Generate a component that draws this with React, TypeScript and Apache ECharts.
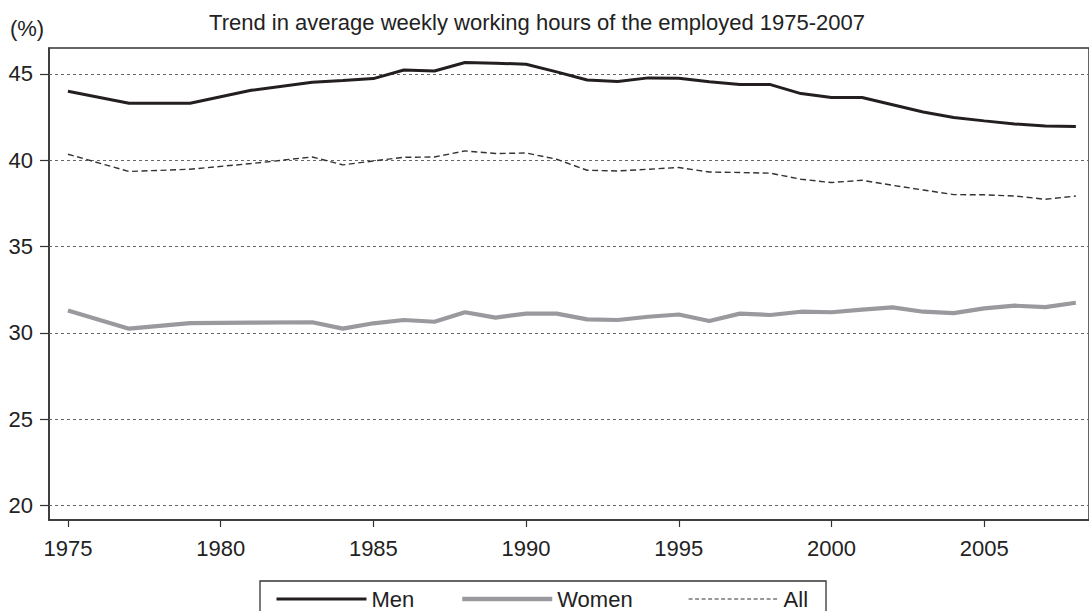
import React, { useEffect, useRef } from "react";
import * as echarts from "echarts";

const titleText = "Trend in average weekly working hours of the employed 1975-2007";
const unitText = "(%)";
const years = [1975, 1977, 1979, 1981, 1983, 1984, 1985, 1986, 1987, 1988, 1989, 1990, 1991, 1992, 1993, 1994, 1995, 1996, 1997, 1998, 1999, 2000, 2001, 2002, 2003, 2004, 2005, 2006, 2007, 2008];
const men = [44.0, 43.3, 43.3, 44.05, 44.52, 44.62, 44.73, 45.23, 45.17, 45.66, 45.62, 45.56, 45.12, 44.65, 44.56, 44.77, 44.75, 44.54, 44.38, 44.38, 43.86, 43.63, 43.63, 43.21, 42.79, 42.47, 42.28, 42.1, 41.99, 41.95];
const women = [31.3, 30.25, 30.57, 30.6, 30.62, 30.25, 30.56, 30.75, 30.65, 31.2, 30.89, 31.12, 31.12, 30.79, 30.75, 30.94, 31.07, 30.69, 31.12, 31.04, 31.23, 31.2, 31.35, 31.48, 31.23, 31.15, 31.42, 31.58, 31.5, 31.75];
const all = [40.35, 39.35, 39.48, 39.81, 40.19, 39.73, 39.96, 40.17, 40.19, 40.54, 40.39, 40.42, 40.06, 39.42, 39.38, 39.48, 39.58, 39.32, 39.29, 39.25, 38.9, 38.71, 38.84, 38.55, 38.28, 38.01, 38.0, 37.93, 37.74, 37.93];
const xTicks = [1975, 1980, 1985, 1990, 1995, 2000, 2005];
const yTicks = [20, 25, 30, 35, 40, 45];

const FONT = "Liberation Sans, Arial, sans-serif";

export default function App() {
  const ref = useRef<HTMLDivElement>(null);
  useEffect(() => {
    if (!ref.current) return;
    const chart = echarts.init(ref.current, null, { renderer: "svg" });
    const pair = (arr: number[]) => years.map((y, i) => [y, arr[i]]);
    const legendBase = {
      top: 588,
      itemWidth: 90,
      itemHeight: 14,
      padding: 0,
      itemGap: 0,
      selectedMode: false,
      itemStyle: { opacity: 0 },
      textStyle: { fontSize: 22, color: "#222", fontFamily: FONT, lineHeight: 22 },
    };
    chart.setOption({
      animation: false,
      backgroundColor: "#fff",
      textStyle: { fontFamily: FONT },
      grid: {
        left: 49,
        right: -3,
        top: 48,
        bottom: 91,
        show: true,
        borderColor: "#333",
        borderWidth: 1.5,
        backgroundColor: "transparent",
      },
      graphic: [
        {
          type: "text",
          x: 537,
          y: 22,
          style: { text: titleText, fontSize: 22, fontFamily: FONT, fill: "#222", align: "center", verticalAlign: "middle" },
        },
        {
          type: "text",
          x: 27,
          y: 28,
          style: { text: unitText, fontSize: 22, fontFamily: FONT, fill: "#222", align: "center", verticalAlign: "middle" },
        },
        {
          type: "rect",
          shape: { x: 260, y: 581, width: 566, height: 60 },
          style: { fill: "none", stroke: "#333", lineWidth: 1.3 },
        },
      ],
      legend: [
        { ...legendBase, left: 275, data: ["Men"], lineStyle: { width: 3 } },
        { ...legendBase, left: 460, data: ["Women"], lineStyle: { width: 4.5 } },
        { ...legendBase, left: 688, data: ["All"], lineStyle: { width: 1.2, type: [4, 2.5] } },
      ],
      xAxis: {
        type: "value",
        min: 1974.38,
        max: 2008.43,
        axisLine: { show: true, lineStyle: { color: "#333", width: 1.5 } },
        axisTick: { show: true, customValues: xTicks, length: 7, lineStyle: { color: "#333", width: 1.2 } },
        axisLabel: {
          customValues: xTicks,
          fontSize: 22,
          color: "#222",
          margin: 17,
          fontFamily: FONT,
          formatter: (v: number) => String(v),
        },
        splitLine: { show: false },
      },
      yAxis: {
        type: "value",
        min: 19.17,
        max: 46.5,
        axisLine: { show: true, lineStyle: { color: "#333", width: 1.5 } },
        axisTick: { show: true, customValues: yTicks, length: 9, lineStyle: { color: "#333", width: 1.2 } },
        axisLabel: { customValues: yTicks, fontSize: 22, color: "#222", margin: 16, fontFamily: FONT },
        splitLine: { show: false },
      },
      series: [
        {
          name: "Men",
          type: "line",
          data: pair(men),
          symbol: "none",
          lineStyle: { color: "#231f20", width: 3 },
          itemStyle: { color: "#231f20" },
          markLine: {
            silent: true,
            symbol: ["none", "none"],
            label: { show: false },
            lineStyle: { color: "#666", width: 1.2, type: [3, 3] },
            data: yTicks.map((v) => ({ yAxis: v })),
            animation: false,
            z: 1,
          },
          z: 3,
        },
        {
          name: "Women",
          type: "line",
          data: pair(women),
          symbol: "none",
          lineStyle: { color: "#9a9a9e", width: 4.2 },
          itemStyle: { color: "#9a9a9e" },
          z: 3,
        },
        {
          name: "All",
          type: "line",
          data: pair(all),
          symbol: "none",
          lineStyle: { color: "#333", width: 1.4, type: [6, 3.5] },
          itemStyle: { color: "#333" },
          z: 3,
        },
      ],
    });
    return () => chart.dispose();
  }, []);
  return <div ref={ref} style={{ position: "absolute", left: 0, top: 0, width: 1089, height: 611 }} />;
}
